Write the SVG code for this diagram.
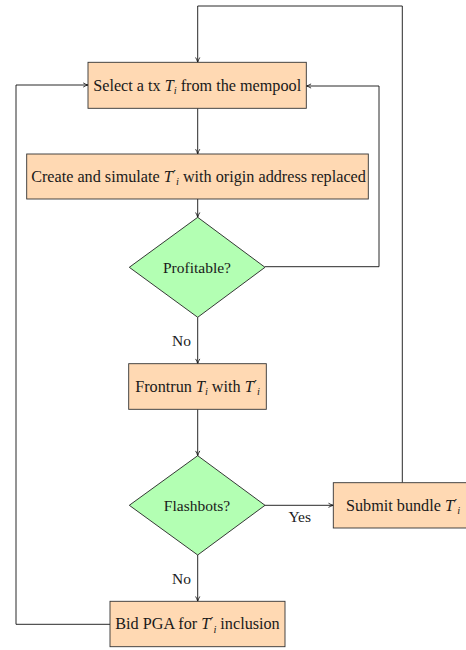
<svg xmlns="http://www.w3.org/2000/svg" width="466" height="650" viewBox="0 0 466 650">
<style>
text{font-family:"Liberation Serif","Times New Roman",serif;font-size:16.2px;fill:#1a1a1a}
.d{font-size:15.5px}
.m{font-style:italic}
.s{font-size:10.5px;font-style:italic}
.p{font-size:14px;font-family:"DejaVu Serif",serif}
.box{fill:#FFD9B3;stroke:#333;stroke-width:0.9}
.dia{fill:#B3FFB3;stroke:#222;stroke-width:0.9}
.c{fill:none;stroke:#111;stroke-width:0.9}
</style>
<defs>
<marker id="ah" viewBox="0 0 10 10" refX="9" refY="5" markerWidth="6" markerHeight="6" orient="auto" markerUnits="userSpaceOnUse">
<path d="M1,1.5 Q5,4 9,5 Q5,6 1,8.5" fill="none" stroke="#111" stroke-width="1.4"/>
</marker>
</defs>
<g id="connectors">
<path class="c" d="M197.7,108.3 V154" marker-end="url(#ah)"/>
<path class="c" d="M197.7,199 V217.3" marker-end="url(#ah)"/>
<path class="c" d="M197.7,317.3 V363.7" marker-end="url(#ah)"/>
<path class="c" d="M265,266.7 H379 V86 H306.3" marker-end="url(#ah)"/>
<path class="c" d="M197.7,409.3 V455.7" marker-end="url(#ah)"/>
<path class="c" d="M265,505.3 H333.3" marker-end="url(#ah)"/>
<path class="c" d="M197.7,555 V601.3" marker-end="url(#ah)"/>
<path class="c" d="M110,624.3 H16 V85 H88" marker-end="url(#ah)"/>
<path class="c" d="M402.3,482.7 V6 H197.7 V62.3" marker-end="url(#ah)"/>
<text class="d" x="191" y="345.7" text-anchor="end">No</text>
<text class="d" x="299.7" y="521.7" text-anchor="middle">Yes</text>
<text class="d" x="191" y="583.5" text-anchor="end">No</text>
</g>
<g id="select">
<rect class="box" x="88" y="62.3" width="218.3" height="46"/>
<text x="197.2" y="90.5" text-anchor="middle">Select a tx <tspan class="m">T</tspan><tspan class="s" dy="3">i</tspan><tspan dy="-3"> from the mempool</tspan></text>
</g>
<g id="create">
<rect class="box" x="26.7" y="154" width="341.6" height="45"/>
<text x="198.5" y="181.7" text-anchor="middle">Create and simulate <tspan class="m">T</tspan><tspan class="p" dy="-1">′</tspan><tspan class="s" dy="4.5">i</tspan><tspan dy="-3.5"> with origin address replaced</tspan></text>
</g>
<g id="profitable">
<polygon class="dia" points="197.7,217.3 265,267.3 197.7,317.3 129.3,267.3"/>
<text class="d" x="197" y="272.7" text-anchor="middle">Profitable?</text>
</g>
<g id="frontrun">
<rect class="box" x="128.7" y="363.7" width="137.6" height="45.6"/>
<text x="197.5" y="391.7" text-anchor="middle">Frontrun <tspan class="m">T</tspan><tspan class="s" dy="3">i</tspan><tspan dy="-3"> with </tspan><tspan class="m">T</tspan><tspan class="p" dy="-1">′</tspan><tspan class="s" dy="4.5">i</tspan></text>
</g>
<g id="flashbots">
<polygon class="dia" points="197.7,455.7 265,505.3 197.7,555 129.3,505.3"/>
<text class="d" x="197" y="510.5" text-anchor="middle">Flashbots?</text>
</g>
<g id="submit">
<rect class="box" x="333.3" y="482.7" width="140" height="45.3"/>
<text x="346" y="510.7">Submit bundle <tspan class="m">T</tspan><tspan class="p" dy="-1">′</tspan><tspan class="s" dy="4.5">i</tspan></text>
</g>
<g id="bid">
<rect class="box" x="110" y="601.3" width="175" height="45.4"/>
<text x="197.5" y="629.2" text-anchor="middle">Bid PGA for <tspan class="m">T</tspan><tspan class="p" dy="-1">′</tspan><tspan class="s" dy="4.5">i</tspan><tspan dy="-3.5"> inclusion</tspan></text>
</g>
</svg>
